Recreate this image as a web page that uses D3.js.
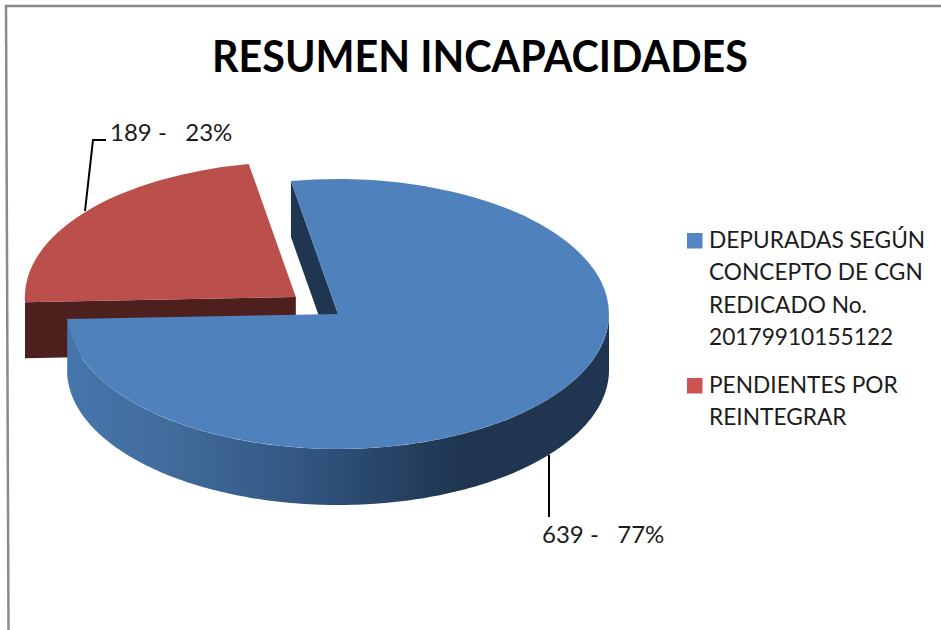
<!DOCTYPE html>
<html>
<head>
<meta charset="utf-8">
<script src="https://cdn.jsdelivr.net/npm/d3@7"></script>
<style>
  html, body { margin: 0; padding: 0; background: #fff; }
  text { font-family: Lato, "Open Sans", sans-serif; fill: #1c1c1c; white-space: pre; }
</style>
</head>
<body>
<div id="chart"></div>
<script>
const categories = ["DEPURADAS SEGÚN CONCEPTO DE CGN REDICADO No. 20179910155122", "PENDIENTES POR REINTEGRAR"];
const values = [639, 189];
const percents = [77, 23];
const legendLines = [
  ["DEPURADAS SEGÚN", "CONCEPTO DE CGN", "REDICADO No.", "20179910155122"],
  ["PENDIENTES POR", "REINTEGRAR"]
];
const title = "RESUMEN INCAPACIDADES";

const width = 941;
const height = 630;
const cx = 338, cy = 314;      // centre of the blue slice
const rx = 271, ry = 135;
const depth = 56;
const explode = 0.2;           // how far the red slice is pulled out
const rad = Math.PI / 180;

const svg = d3.select("#chart")
  .append("svg")
  .attr("width", width)
  .attr("height", height);

// frame of the screenshot
svg.append("line").attr("x1", 5).attr("y1", 6).attr("x2", 941).attr("y2", 6)
  .attr("stroke", "#8a8a8a").attr("stroke-width", 2.5);
svg.append("line").attr("x1", 6).attr("y1", 5).attr("x2", 8.5).attr("y2", 630)
  .attr("stroke", "#8a8a8a").attr("stroke-width", 2.5);

const defs = svg.append("defs");
// coordinates are local to the slice group, so centred on 0
const wallGrad = defs.append("linearGradient")
  .attr("id", "wallBlue")
  .attr("gradientUnits", "userSpaceOnUse")
  .attr("x1", -rx).attr("x2", rx).attr("y1", 0).attr("y2", 0);
[[0, "#4676ad"], [0.2, "#416b9b"], [0.45, "#31547f"], [0.72, "#1f3550"], [1, "#1f3550"]].forEach(s => {
  wallGrad.append("stop").attr("offset", s[0]).attr("stop-color", s[1]);
});

const slices = d3.pie()
  .sort(null)
  .startAngle(-10 * rad)
  .endAngle(350 * rad)(values);

const colors = ["#4f81bd", "#bb4f4b"];
const cutColors = ["#1f3550", "#4d1f1d"];

const arc = d3.arc().innerRadius(0).outerRadius(rx);

// point on the ellipse for a pie angle (clockwise from top)
const px = a => Math.sin(a) * rx;
const py = a => -Math.cos(a) * ry;

function sliceOffset(d, i) {
  if (i === 0) return [cx, cy];
  const mid = (d.startAngle + d.endAngle) / 2;
  return [cx + px(mid) * explode, cy + py(mid) * explode];
}

// outer wall of a slice between two angles
function wallPath(a0, a1) {
  const steps = d3.range(a0, a1, 1 * rad).concat([a1]);
  const top = steps.map(a => [px(a), py(a)]);
  const bottom = steps.slice().reverse().map(a => [px(a), py(a) + depth]);
  return d3.line()(top.concat(bottom)) + "Z";
}

// cut face going from the centre to the rim at angle a
function cutPath(a) {
  return d3.line()([[0, 0], [px(a), py(a)], [px(a), py(a) + depth], [0, depth]]) + "Z";
}

// red slice first, it sits behind the blue one
const redPos = sliceOffset(slices[1], 1);
const red = svg.append("g").attr("transform", `translate(${redPos})`);
red.append("path").attr("d", cutPath(slices[1].startAngle)).attr("fill", cutColors[1]);
red.append("path")
  .attr("d", arc(slices[1]))
  .attr("transform", `scale(1,${ry / rx})`)
  .attr("fill", colors[1]);

const bluePos = sliceOffset(slices[0], 0);
const blue = svg.append("g").attr("transform", `translate(${bluePos})`);
blue.append("path").attr("d", cutPath(slices[0].startAngle)).attr("fill", cutColors[0]);
blue.append("path")
  .attr("d", wallPath(90 * rad, slices[0].endAngle))
  .attr("fill", "url(#wallBlue)");
blue.append("path")
  .attr("d", arc(slices[0]))
  .attr("transform", `scale(1,${ry / rx})`)
  .attr("fill", colors[0]);

// title
svg.append("text")
  .attr("x", 480).attr("y", 72)
  .attr("text-anchor", "middle")
  .attr("font-size", 43)
  .attr("font-weight", 700)
  .attr("textLength", 536)
  .attr("lengthAdjust", "spacingAndGlyphs")
  .style("fill", "#000")
  .text(title);

// leaders and data labels
const leader = d3.line();
svg.append("path")
  .attr("d", leader([[85, 211], [93, 140], [106, 140]]))
  .attr("fill", "none").attr("stroke", "#000").attr("stroke-width", 2);
svg.append("path")
  .attr("d", leader([[549, 455], [549, 517]]))
  .attr("fill", "none").attr("stroke", "#000").attr("stroke-width", 2);

const labelPos = [[542, 543], [110, 141]];
svg.selectAll(".dataLabel")
  .data(values)
  .join("text")
  .attr("class", "dataLabel")
  .attr("x", (d, i) => labelPos[i][0])
  .attr("y", (d, i) => labelPos[i][1])
  .attr("font-size", 24)
  .text((d, i) => `${d} -   ${percents[i]}%`);

// legend
const swatchColors = ["#5585c5", "#cb5452"];
const legendTop = [248, 393];
const lineStep = 32.3;
const legend = svg.selectAll(".legendItem")
  .data(categories)
  .join("g")
  .attr("class", "legendItem");
legend.append("rect")
  .attr("x", 687).attr("y", (d, i) => legendTop[i] - 15)
  .attr("width", 15.5).attr("height", 15.5)
  .attr("fill", (d, i) => swatchColors[i]);
legend.each(function(d, i) {
  d3.select(this).selectAll("text")
    .data(legendLines[i])
    .join("text")
    .attr("x", 709)
    .attr("y", (t, j) => legendTop[i] + j * lineStep)
    .attr("font-size", 22.7)
    .text(t => t);
});
</script>
</body>
</html>
